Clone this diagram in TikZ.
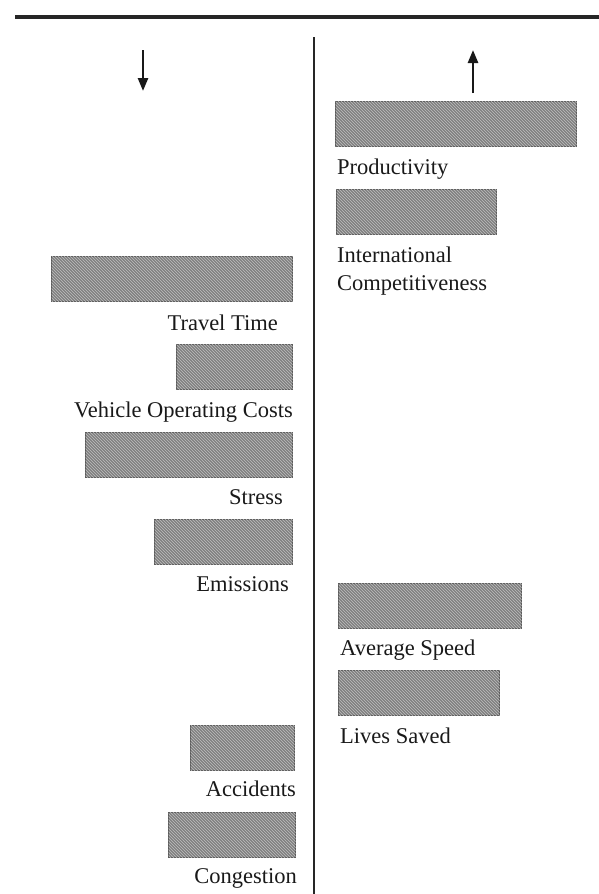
\documentclass[tikz,border=0pt]{standalone}
\usepackage{fontspec}
\setmainfont{Liberation Serif}
\usetikzlibrary{arrows.meta,patterns,positioning}

\begin{document}
\begin{tikzpicture}[x=1pt,y=-1pt,>={Triangle[length=13pt,width=10pt]},
  bar/.style={draw=black!65,line width=1pt,fill=black!50,postaction={pattern=north west lines,pattern color=black!25},
    inner sep=0pt,minimum height=45pt},
  lbl/.style={font=\fontsize{22.5}{28}\selectfont,text=black!90,inner sep=0pt,align=left}]

  \useasboundingbox (0,0) rectangle (599,894);

  % rule and divider
  \coordinate (ruleL) at (15,17);
  \coordinate (ruleR) at (599,17);
  \coordinate (divT) at (314,37);
  \coordinate (divB) at (314,894);
  \draw[line width=3.5pt,black!85] (ruleL) -- (ruleR);
  \draw[line width=2.5pt,black!85] (divT) -- (divB);

  % arrows
  \coordinate (downA) at (143,50);
  \coordinate (downB) at (143,91);
  \coordinate (upA) at (473,93);
  \coordinate (upB) at (473,50);
  \draw[->,line width=2.5pt,black!90] (downA) -- (downB);
  \draw[->,line width=2.5pt,black!90] (upA) -- (upB);

  % left side: decrease
  \node[bar,minimum width=241pt,anchor=north east] (tt) at (293,256) {};
  \node[lbl,anchor=base east] (ttl) at ([xshift=-15pt,yshift=-28pt]tt.south east) {Travel Time};

  \node[bar,minimum width=116pt,anchor=north east] (voc) at (293,344) {};
  \node[lbl,anchor=base east] (vocl) at ([yshift=-27pt]voc.south east) {Vehicle Operating Costs};

  \node[bar,minimum width=207pt,anchor=north east] (st) at (293,432) {};
  \node[lbl,anchor=base east] (stl) at ([xshift=-10pt,yshift=-26pt]st.south east) {Stress};

  \node[bar,minimum width=138pt,anchor=north east] (em) at (293,519) {};
  \node[lbl,anchor=base east] (eml) at ([xshift=-4pt,yshift=-26pt]em.south east) {Emissions};

  \node[bar,minimum width=104pt,anchor=north east] (acc) at (295,725) {};
  \node[lbl,anchor=base east] (accl) at ([xshift=1pt,yshift=-25pt]acc.south east) {Accidents};

  \node[bar,minimum width=127pt,anchor=north east] (con) at (296,812) {};
  \node[lbl,anchor=base east] (conl) at ([xshift=1pt,yshift=-25pt]con.south east) {Congestion};

  % right side: increase
  \node[bar,minimum width=241pt,anchor=north west] (pro) at (335,101) {};
  \node[lbl,anchor=base west] (prol) at ([xshift=2pt,yshift=-27pt]pro.south west) {Productivity};

  \node[bar,minimum width=160pt,anchor=north west] (ic) at (336,189) {};
  \node[lbl,anchor=north west] (icl) at ([xshift=1pt,yshift=-12pt]ic.south west) {International\\Competitiveness};

  \node[bar,minimum width=183pt,anchor=north west] (avs) at (338,583) {};
  \node[lbl,anchor=base west] (avsl) at ([xshift=2pt,yshift=-26pt]avs.south west) {Average Speed};

  \node[bar,minimum width=161pt,anchor=north west] (ls) at (338,670) {};
  \node[lbl,anchor=base west] (lsl) at ([xshift=2pt,yshift=-27pt]ls.south west) {Lives Saved};

\end{tikzpicture}
\end{document}
